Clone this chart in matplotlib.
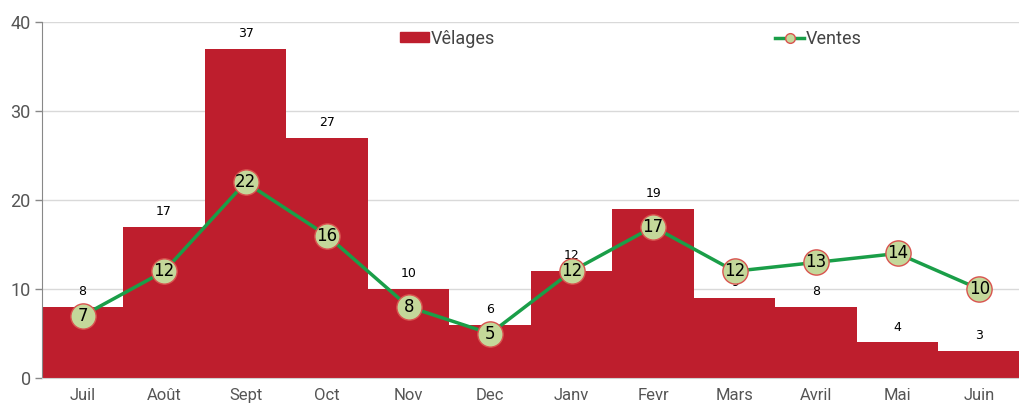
import numpy as np
import matplotlib.pyplot as plt
from matplotlib.lines import Line2D
from matplotlib.patches import Patch

months = ["Juil", "Août", "Sept", "Oct", "Nov", "Dec", "Janv", "Fevr", "Mars", "Avril", "Mai", "Juin"]
velages = [8, 17, 37, 27, 10, 6, 12, 19, 9, 8, 4, 3]
ventes = [7, 12, 22, 16, 8, 5, 12, 17, 12, 13, 14, 10]

plt.rcParams['font.family'] = ['Roboto', 'DejaVu Sans']

fig = plt.figure(figsize=(10.2, 4.03), dpi=100)
ax = fig.add_axes([0.041, 0.062, 0.959, 0.883])

x = np.arange(len(months))
ax.bar(x, velages, width=1.0, color="#BE1E2D", zorder=2)
for xi, v in zip(x, velages):
    ax.text(xi, v + 1.0, str(v), ha="center", va="bottom", fontsize=9,
            family="DejaVu Sans", color="black", zorder=3)

ax.plot(x, ventes, color="#1A9E48", lw=2.5, zorder=4)
ax.scatter(x, ventes, s=330, facecolor="#C4D89A", edgecolor="#D9534F", lw=1, zorder=5)
for xi, v in zip(x, ventes):
    ax.text(xi, v, str(v), ha="center", va="center", fontsize=12,
            family="DejaVu Sans", color="black", zorder=6)

ax.set_xlim(-0.5, len(months) - 0.5)
ax.set_ylim(0, 40)
ax.set_yticks([0, 10, 20, 30, 40])
ax.set_xticks(x)
ax.set_xticklabels(months)
ax.tick_params(axis="x", length=0, labelsize=12, colors="#555555", pad=7)
ax.tick_params(axis="y", length=5, width=1, color="#888888", labelsize=13, labelcolor="#555555", pad=3)
ax.grid(axis="y", color="#D9D9D9", lw=1, zorder=0)
for s in ["top", "right"]:
    ax.spines[s].set_visible(False)
ax.spines["left"].set_color("#888888")
ax.spines["bottom"].set_color("#D0D0D0")

handles = [Patch(color="#BE1E2D"),
           Line2D([], [], color="#1A9E48", lw=2.5, marker="o", markersize=7,
                  markerfacecolor="#C4D89A", markeredgecolor="#D9534F")]
ax.legend(handles, ["Vêlages", "Ventes"], loc="upper left", bbox_to_anchor=(0.35, 1.025),
          ncol=2, frameon=False, fontsize=13, columnspacing=15.5, handlelength=1.6,
          handleheight=0.5, handletextpad=0.1, labelcolor="#444444")

fig.savefig("out.png", dpi=100)
